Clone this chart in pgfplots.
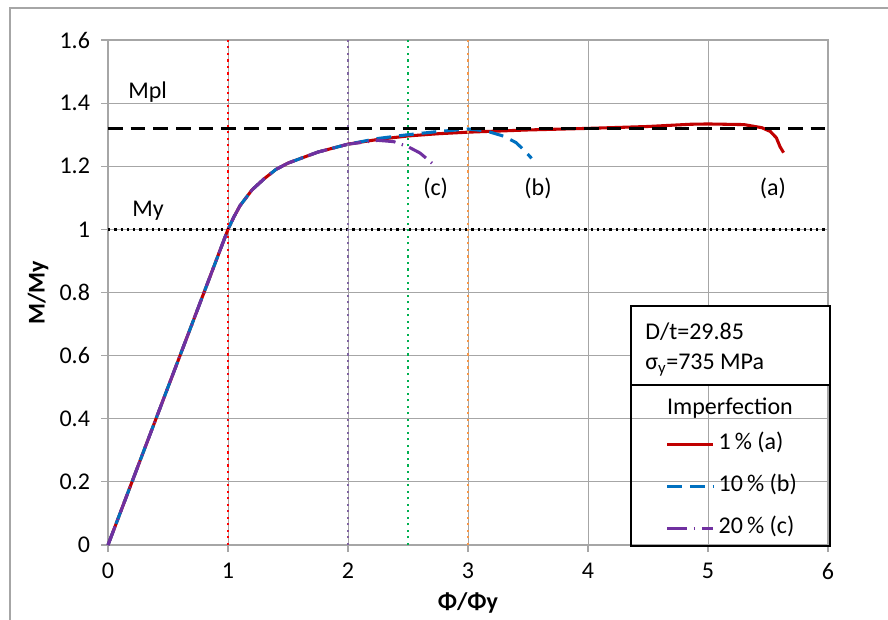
\documentclass[border=0pt]{standalone}
\usepackage{pgfplots}
\pgfplotsset{compat=1.18}
\usepackage{fontspec}
\setmainfont{Carlito}
\definecolor{cRed}{HTML}{C00000}
\definecolor{cBlue}{HTML}{0070C0}
\definecolor{cPurple}{HTML}{7030A0}
\definecolor{vRed}{HTML}{FF0000}
\definecolor{vPurple}{HTML}{8064A2}
\definecolor{vGreen}{HTML}{00B050}
\definecolor{vOrange}{HTML}{F79646}
\definecolor{gridgray}{HTML}{A6A6A6}
\begin{document}
\begin{tikzpicture}
\useasboundingbox (-81pt,-55.5pt) rectangle (585pt,408.75pt);
\draw[gridgray, line width=0.9pt] (-73.5pt,-60pt) -- (-73.5pt,402.75pt) -- (590pt,402.75pt);
\begin{axis}[
  at={(0,0)}, anchor=south west,
  scale only axis, width=540pt, height=378.75pt,
  xmin=0, xmax=6, ymin=0, ymax=1.6,
  xtick={0,1,2,3,4,5,6},
  ytick={0,0.2,0.4,0.6,0.8,1,1.2,1.4,1.6},
  grid=major, grid style={gridgray, line width=0.7pt},
  axis line style={gridgray, line width=0.9pt},
  tick style={gridgray, line width=0.9pt},
  tick align=outside, tick pos=left, major tick length=5pt,
  font=\fontsize{18}{21}\selectfont,
  /pgf/number format/assume math mode=true,
  yticklabel style={xshift=-5pt},
  xticklabel style={yshift=-5pt},
  xlabel={\bfseries Φ/Φy}, ylabel={\bfseries M/My},
  xlabel style={at={(axis description cs:0.5,-0.115)}, anchor=center},
  ylabel style={at={(axis description cs:-0.097,0.5)}, anchor=center},
  clip=false,
  legend cell align=left,
  legend image code/.code={\draw[#1] (0pt,0pt) -- (34.5pt,0pt);},
  legend style={at={(axis cs:4.645,0.357)}, anchor=north west, draw=none, fill=none,
    inner sep=0pt, row sep=13.5pt, column sep=3pt,
    nodes={inner sep=0pt, text height=13pt, text depth=5pt},
    font=\fontsize{18}{21}\selectfont},
]
% curves
\addplot[cRed, line width=2.3pt] coordinates {
(0,0)(0.5,0.5)(0.95,0.95)(1.0,1.0)(1.05,1.04)(1.1,1.075)(1.2,1.125)(1.3,1.16)(1.4,1.19)(1.5,1.21)
(1.75,1.245)(2.0,1.27)(2.25,1.285)(2.5,1.296)(2.75,1.303)(3.0,1.308)(3.5,1.315)(4.0,1.32)
(4.5,1.326)(4.85,1.333)(5.0,1.334)(5.3,1.332)(5.45,1.322)(5.52,1.31)(5.57,1.29)(5.6,1.262)(5.63,1.243)};
\addlegendentry{1\,\% (a)}
\addplot[cBlue, line width=2.3pt, dash pattern=on 11pt off 6pt] coordinates {
(0,0)(0.5,0.5)(0.95,0.95)(1.0,1.0)(1.05,1.04)(1.1,1.075)(1.2,1.125)(1.3,1.16)(1.4,1.19)(1.5,1.21)
(1.75,1.245)(2.0,1.27)(2.25,1.288)(2.5,1.30)(2.75,1.31)(3.0,1.318)(3.15,1.312)(3.3,1.295)
(3.4,1.275)(3.47,1.25)(3.53,1.225)};
\addlegendentry{10\,\% (b)}
\addplot[cPurple, line width=2.3pt, dash pattern=on 15pt off 5pt on 1pt off 5pt] coordinates {
(0,0)(0.5,0.5)(0.95,0.95)(1.0,1.0)(1.05,1.04)(1.1,1.075)(1.2,1.125)(1.3,1.16)(1.4,1.19)(1.5,1.21)
(1.75,1.245)(2.0,1.27)(2.25,1.282)(2.38,1.278)(2.5,1.262)(2.6,1.242)(2.7,1.21)};
\addlegendentry{20\,\% (c)}
% reference lines
\addplot[black, line width=2.3pt, dash pattern=on 11pt off 6pt, forget plot] coordinates {(0,1.32)(6,1.32)};
\addplot[black, line width=1.9pt, dash pattern=on 1.7pt off 3pt, forget plot] coordinates {(0,1)(6,1)};
\addplot[vRed, line width=1.7pt, dash pattern=on 1.6pt off 3.3pt, forget plot] coordinates {(1,0)(1,1.6)};
\addplot[vPurple, line width=1.7pt, dash pattern=on 1.6pt off 3.3pt, forget plot] coordinates {(2,0)(2,1.6)};
\addplot[vGreen, line width=1.7pt, dash pattern=on 1.6pt off 3.3pt, forget plot] coordinates {(2.5,0)(2.5,1.6)};
\addplot[vOrange, line width=1.7pt, dash pattern=on 1.6pt off 3.3pt, forget plot] coordinates {(3,0)(3,1.6)};
% labels
\node[anchor=west, inner sep=0pt] at (axis cs:0.167,1.435) {Mpl};
\node[anchor=west, inner sep=0pt] at (axis cs:0.2,1.058) {My};
\node at (axis cs:2.73,1.131) {(c)};
\node at (axis cs:3.583,1.131) {(b)};
\node at (axis cs:5.54,1.131) {(a)};
% boxes
\draw[black, line width=1.1pt, fill=white] (axis cs:4.358,0.757) rectangle (axis cs:6.017,0.507);
\draw[black, line width=1.1pt] (axis cs:4.358,0.507) rectangle (axis cs:6.017,-0.003);
\node[anchor=west, inner sep=0pt] at (axis cs:4.475,0.675) {D/t=29.85};
\node[anchor=west, inner sep=0pt] at (axis cs:4.475,0.570) {σ\textsubscript{y}=735 MPa};
\node at (axis cs:5.183,0.434) {Imperfection};
\end{axis}
\end{tikzpicture}
\end{document}
